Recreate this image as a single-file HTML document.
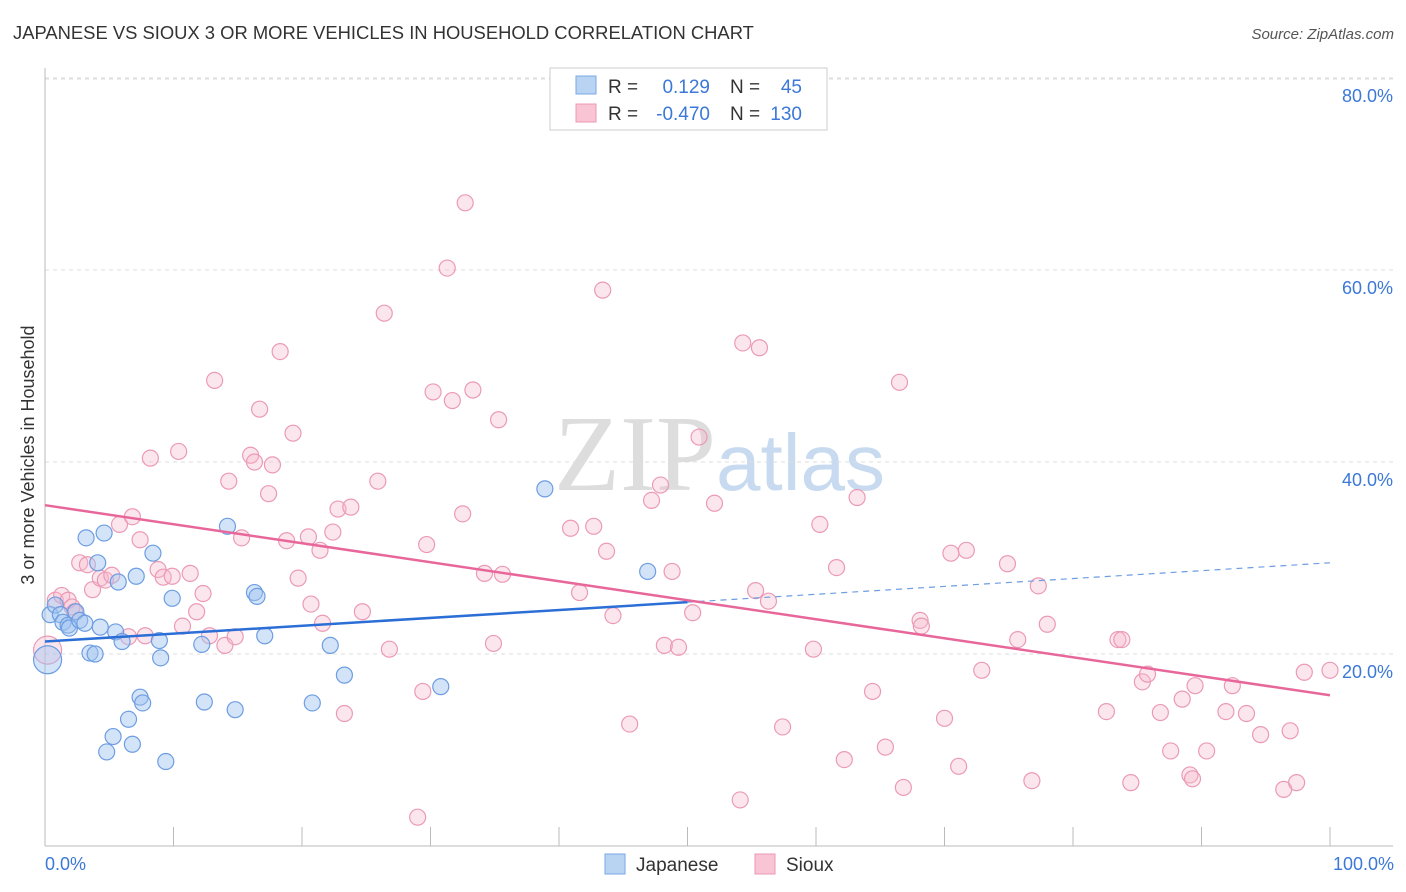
<!DOCTYPE html>
<html><head><meta charset="utf-8">
<style>
body{margin:0;background:#fff;font-family:"Liberation Sans",sans-serif;}
#wrap{position:relative;width:1406px;height:892px;overflow:hidden;}
</style></head>
<body>
<div id="wrap">
<svg id="svg" width="1406" height="892" xmlns="http://www.w3.org/2000/svg">
<text x="13" y="39" font-size="18.4" fill="#333">JAPANESE VS SIOUX 3 OR MORE VEHICLES IN HOUSEHOLD CORRELATION CHART</text>
<text x="1394" y="39" font-size="15" fill="#555" font-style="italic" text-anchor="end">Source: ZipAtlas.com</text>
<text x="34" y="455" font-size="18" fill="#333" text-anchor="middle" transform="rotate(-90 34 455)">3 or more Vehicles in Household</text>
<text x="716" y="490" font-size="108" fill="#ddd" text-anchor="end" font-family="Liberation Serif,serif">ZIP</text>
<text x="716" y="490" font-size="80" fill="#c8daf0">atlas</text>
<g id="grid"></g>
<g id="axes"></g>
<g id="pts"></g>
<g id="trend"></g>
<g>
<rect x="550" y="68" width="277" height="62" fill="#fff" stroke="#ccc"/>
<rect x="576" y="76" width="20" height="18" fill="#b9d3f3" stroke="#7aa8e6"/>
<rect x="576" y="104" width="20" height="18" fill="#f9c4d4" stroke="#ee98b4"/>
<text x="608" y="93" font-size="19" fill="#333">R =</text>
<text x="710" y="93" font-size="19" fill="#3b78d8" text-anchor="end">0.129</text>
<text x="730" y="93" font-size="19" fill="#333">N =</text>
<text x="802" y="93" font-size="19" fill="#3b78d8" text-anchor="end">45</text>
<text x="608" y="120" font-size="19" fill="#333">R =</text>
<text x="710" y="120" font-size="19" fill="#3b78d8" text-anchor="end">-0.470</text>
<text x="730" y="120" font-size="19" fill="#333">N =</text>
<text x="802" y="120" font-size="19" fill="#3b78d8" text-anchor="end">130</text>
</g>
<g>
<rect x="605" y="854" width="20" height="20" fill="#b9d3f3" stroke="#7aa8e6"/>
<text x="636" y="871" font-size="19" fill="#333">Japanese</text>
<rect x="755" y="854" width="20" height="20" fill="#f9c4d4" stroke="#ee98b4"/>
<text x="786" y="871" font-size="19" fill="#333">Sioux</text>
</g>
<text x="45" y="870" font-size="18" fill="#3b78d8">0.0%</text>
<text x="1394" y="870" font-size="18" fill="#3b78d8" text-anchor="end">100.0%</text>
</svg>
</div>
<script>
const yTicks=[20,40,60,80];
const yTickLabels=["20.0%","40.0%","60.0%","80.0%"];
const japX=[0.2,0.4,0.8,1.2,1.4,1.8,1.9,2.4,2.7,3.1,3.2,3.5,3.9,4.1,4.3,4.6,4.8,5.3,5.5,5.7,6.0,6.5,6.8,7.1,7.4,7.6,8.4,8.9,9.0,9.4,9.9,12.2,12.4,14.2,14.8,16.3,16.5,17.1,20.8,22.2,23.3,30.8,38.9,46.9];
const japY=[19.4,24.1,25.1,24.1,23.3,23.0,22.7,24.4,23.5,23.2,32.1,20.1,20.0,29.5,22.8,32.6,9.8,11.4,22.3,27.5,21.3,13.2,10.6,28.1,15.5,14.9,30.5,21.4,19.6,8.8,25.8,21.0,15.0,33.3,14.2,26.4,26.0,21.9,14.9,20.9,17.8,16.6,37.2,28.6];
const siouxX=[0.2,0.8,1.3,1.8,2.1,2.3,2.7,3.3,3.7,4.3,4.7,5.2,5.8,6.5,6.8,7.4,7.8,8.2,8.8,9.2,9.9,10.4,10.7,11.3,11.8,12.3,12.8,13.2,14.0,14.3,14.8,15.3,16.0,16.3,16.7,17.4,17.7,18.3,18.8,19.3,19.7,20.5,20.7,21.4,21.6,22.4,22.8,23.3,23.8,24.7,25.9,26.4,26.8,29.0,29.4,29.7,30.2,31.3,31.7,32.5,32.7,33.3,34.2,34.9,35.3,35.6,40.9,41.6,42.7,43.4,43.7,44.2,45.5,47.2,47.9,48.2,48.8,49.3,50.4,50.9,52.1,54.1,54.3,55.3,55.6,56.3,57.4,59.8,60.3,61.6,62.2,63.2,64.4,65.4,66.5,66.8,68.1,68.2,70.0,70.5,71.1,71.7,72.9,74.9,75.7,76.8,77.3,78.0,82.6,83.5,83.8,84.5,85.4,85.8,86.8,87.6,88.5,89.1,89.3,89.5,90.4,91.9,92.4,93.5,94.6,96.4,96.9,97.4,98.0,100];
const siouxY=[20.4,25.6,26.1,25.6,24.9,24.4,29.5,29.3,26.7,27.9,27.7,28.2,33.5,21.8,34.3,31.9,21.9,40.4,28.8,28.0,28.1,41.1,22.9,28.4,24.4,26.3,21.9,48.5,20.9,38.0,21.8,32.1,40.7,40.0,45.5,36.7,39.7,51.5,31.8,43.0,27.9,32.2,25.2,30.8,23.2,32.7,35.1,13.8,35.3,24.4,38.0,55.5,20.5,3.0,16.1,31.4,47.3,60.2,46.4,34.6,67.0,47.5,28.4,21.1,44.4,28.3,33.1,26.4,33.3,57.9,30.7,24.0,12.7,36.0,37.6,20.9,28.6,20.7,24.3,42.6,35.7,4.8,52.4,26.6,51.9,25.5,12.4,20.5,33.5,29.0,9.0,36.3,16.1,10.3,48.3,6.1,23.5,22.9,13.3,30.5,8.3,30.8,18.3,29.4,21.5,6.8,27.1,23.1,14.0,21.5,21.5,6.6,17.1,17.9,13.9,9.9,15.3,7.4,7.0,16.7,9.9,14.0,16.7,13.8,11.6,5.9,12.0,6.6,18.1,18.3];
const japTrend=[21.3,29.5];
const siouxTrend=[35.5,15.7];
const NS="http://www.w3.org/2000/svg";
const X=v=>45+v*12.85, Y=v=>846-v*9.6;
function mk(t,a,p){const e=document.createElementNS(NS,t);for(const k in a)e.setAttribute(k,a[k]);p.appendChild(e);return e;}
const gridG=document.getElementById('grid'),axesG=document.getElementById('axes');
yTicks.forEach((t,i)=>{
 const l=mk('line',{x1:45,x2:1393,y1:Y(t),y2:Y(t),stroke:'#ddd','stroke-dasharray':'4,4'},gridG);
 
 
 const tx=mk('text',{x:1393,y:Y(t)+24,'font-size':18,fill:'#3b78d8','text-anchor':'end'},gridG);
 tx.textContent=yTickLabels[i];
 
 
});
const topGrid=mk('line',{x1:45,x2:1393,y1:79,y2:79,stroke:'#ddd','stroke-dasharray':'4,4'},gridG);


const ya=mk('line',{x1:45,x2:45,y1:68,y2:846,stroke:'#bbb'},axesG);


const xa=mk('line',{x1:45,x2:1393,y1:846,y2:846,stroke:'#bbb'},axesG);


for(let i=0;i<=10;i++){const tk=mk('line',{x1:X(i*10),x2:X(i*10),y1:827,y2:846,stroke:'#bbb'},axesG);
 
 }
const ptsG=document.getElementById('pts');
siouxX.forEach((x,i)=>{const c=mk('circle',{cx:X(x),cy:Y(siouxY[i]),r:i==0?14:8,fill:'rgba(246,182,202,0.35)',stroke:'#eb9ab6','stroke-width':1.2},ptsG);
 
 });
japX.forEach((x,i)=>{const c=mk('circle',{cx:X(x),cy:Y(japY[i]),r:i==0?14:8,fill:'rgba(160,196,240,0.45)',stroke:'#6d9de2','stroke-width':1.2},ptsG);
 
 });
const trG=document.getElementById('trend');
const jm=japTrend[0]+(japTrend[1]-japTrend[0])*0.5;
const j1=mk('line',{x1:X(0),y1:Y(japTrend[0]),x2:X(50),y2:Y(jm),stroke:'#2b6fd6','stroke-width':2.5},trG);


const j2=mk('line',{x1:X(50),y1:Y(jm),x2:X(100),y2:Y(japTrend[1]),stroke:'#6d9de2','stroke-width':1.2,'stroke-dasharray':'6,5'},trG);


const s1=mk('line',{x1:X(0),y1:Y(siouxTrend[0]),x2:X(100),y2:Y(siouxTrend[1]),stroke:'#e8679a','stroke-width':2.5},trG);


</script>
</body></html>
